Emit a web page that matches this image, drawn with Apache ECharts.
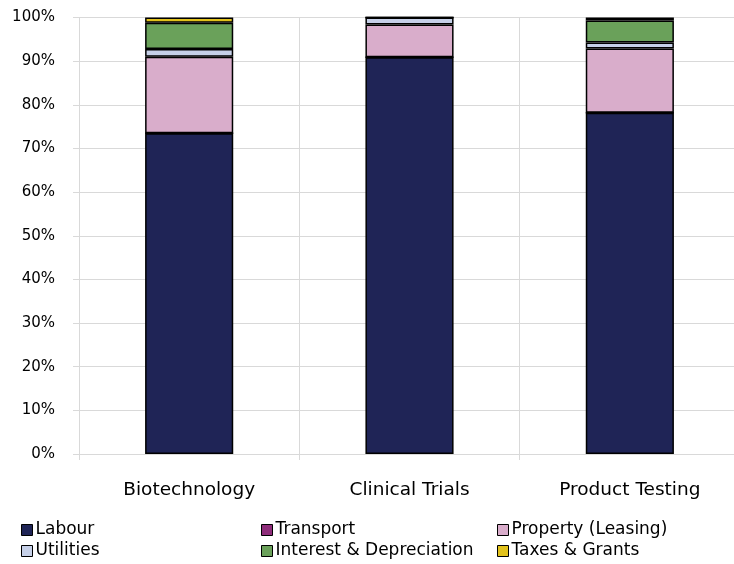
<!DOCTYPE html>
<html>
<head>
<meta charset="utf-8">
<script src="https://cdn.jsdelivr.net/npm/echarts@6/dist/echarts.min.js"></script>
<style>html,body{margin:0;padding:0;background:#fff}#c{width:734px;height:564px}</style>
</head>
<body>
<div id="c"></div>
<script>
const categories = ['Biotechnology', 'Clinical Trials', 'Product Testing'];
const labour = [73.5, 90.9, 78.2];
const transport = [0, 0, 0];
const property = [17.5, 7.5, 14.7];
const utilities = [1.8, 1.6, 1.4];
const interest = [6.0, 0, 5.0];
const taxes = [1.2, 0, 0.7];
const yTicks = [0, 10, 20, 30, 40, 50, 60, 70, 80, 90, 100];

const FONT = 'DejaVu Sans';
const names = ['Labour', 'Transport', 'Property (Leasing)', 'Utilities', 'Interest & Depreciation', 'Taxes & Grants'];
const colors = ['#1F2456', '#8E2D7A', '#D9ADCB', '#C6D0E8', '#6AA15A', '#E2C21C'];
const values = [labour, transport, property, utilities, interest, taxes];

const series = names.map((n, i) => ({
  name: n,
  type: 'bar',
  stack: 'total',
  barWidth: '40%',
  data: values[i],
  itemStyle: { color: colors[i], borderColor: '#000', borderWidth: 1.5 },
  emphasis: { disabled: true }
}));

const legendLeft = [21, 261, 497];
const legendTop = [521.5, 542.5];
const legends = names.map((n, i) => ({
  orient: 'horizontal',
  left: legendLeft[i % 3],
  top: legendTop[Math.floor(i / 3)],
  itemWidth: 11,
  itemHeight: 11,
  data: [n],
  icon: 'rect',
  padding: 0,
  itemStyle: { borderColor: '#000', borderWidth: 1 },
  textStyle: { fontFamily: FONT, fontSize: 17, color: '#000', lineHeight: 17, padding: [0, 0, 0, -2] }
}));

const chart = echarts.init(document.getElementById('c'), null, { renderer: 'canvas' });
chart.setOption({
  animation: false,
  backgroundColor: '#fff',
  grid: { left: 79, top: 17.5, width: 661, height: 436.5, containLabel: false, outerBoundsMode: 'none' },
  legend: legends,
  xAxis: {
    type: 'category',
    data: categories,
    axisLine: { show: true, lineStyle: { color: '#D9D9D9', width: 1 } },
    axisTick: { show: true, length: 6, interval: 0, lineStyle: { color: '#D9D9D9' } },
    splitLine: { show: true, interval: 0, lineStyle: { color: '#D9D9D9', width: 1 } },
    axisLabel: { fontFamily: FONT, fontSize: 18.5, color: '#000', margin: 27, interval: 0 }
  },
  yAxis: {
    type: 'value',
    min: yTicks[0],
    max: yTicks[yTicks.length - 1],
    interval: 10,
    axisLine: { show: true, lineStyle: { color: '#D9D9D9', width: 1 } },
    axisTick: { show: true, length: 6, lineStyle: { color: '#D9D9D9' } },
    splitLine: { show: true, lineStyle: { color: '#D9D9D9', width: 1 } },
    axisLabel: { fontFamily: FONT, fontSize: 15, color: '#000', margin: 24, formatter: '{value}%' }
  },
  series: series
});
</script>
</body>
</html>
